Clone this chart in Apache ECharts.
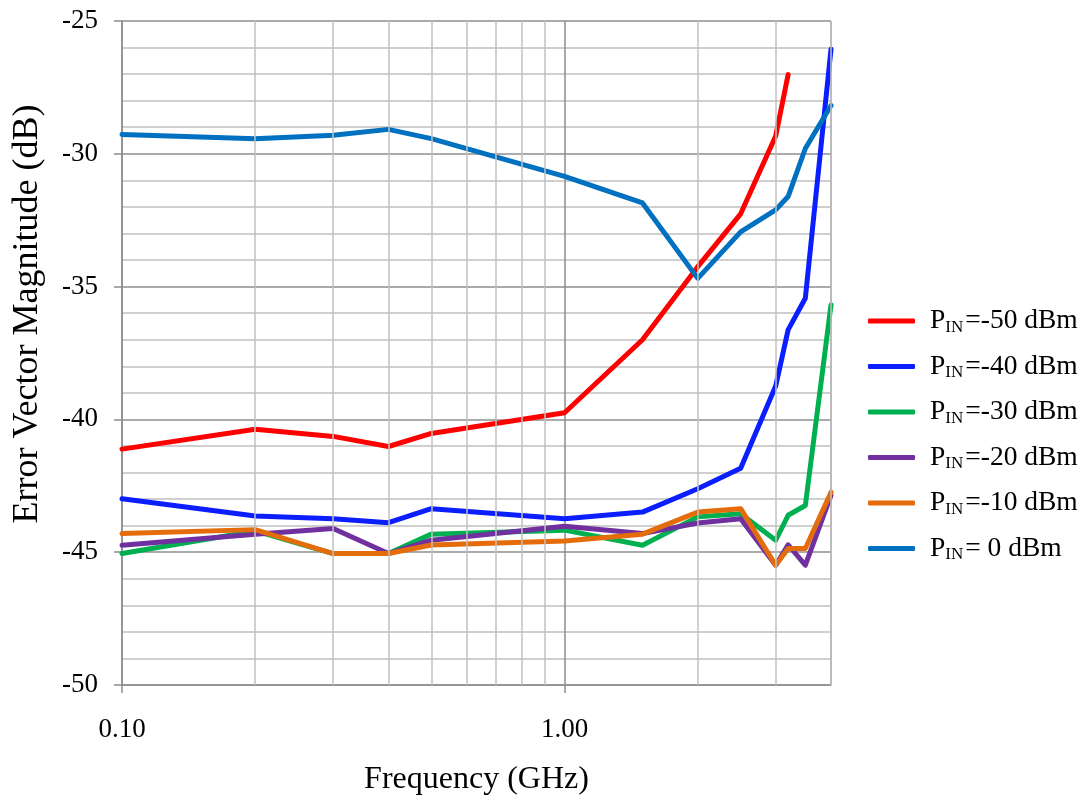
<!DOCTYPE html>
<html>
<head>
<meta charset="utf-8">
<script src="https://cdn.jsdelivr.net/npm/echarts@6/dist/echarts.min.js"></script>
<style>html,body{margin:0;padding:0;background:#fff;}#chart{width:1084px;height:801px;}</style>
</head>
<body>
<div id="chart"></div>
<script>
// Frequencies (GHz)
const freq = [0.1, 0.2, 0.3, 0.4, 0.5, 1.0, 1.5, 2.0, 2.5, 3.0, 3.2, 3.5, 4.0];
// EVM (dB) per input power
const pinLabels = ['-50', '-40', '-30', '-20', '-10', ' 0'];
const evmM50 = [-41.12, -40.37, -40.64, -41.02, -40.53, -39.75, -37.0, -34.25, -32.26, -29.33, -27.02];
const evmM40 = [-42.99, -43.64, -43.74, -43.89, -43.36, -43.74, -43.49, -42.61, -41.84, -38.74, -36.63, -35.44, -26.06];
const evmM30 = [-45.05, -44.2, -45.05, -45.05, -44.32, -44.17, -44.74, -43.67, -43.55, -44.55, -43.61, -43.24, -35.69];
const evmM20 = [-44.74, -44.32, -44.11, -45.05, -44.55, -44.02, -44.3, -43.9, -43.74, -45.49, -44.72, -45.49, -42.86];
const evmM10 = [-44.30, -44.15, -45.05, -45.05, -44.73, -44.58, -44.32, -43.49, -43.36, -45.49, -44.86, -44.86, -42.74];
const evm0   = [-29.27, -29.43, -29.30, -29.08, -29.43, -30.85, -31.85, -34.69, -32.94, -32.11, -31.61, -29.80, -28.18];
// Minor vertical grid positions (GHz)
const minorFreqGrid = [0.2, 0.3, 0.4, 0.5, 0.6, 0.7, 0.8, 0.9, 2, 3, 4];
const yTitle = 'Error Vector Magnitude (dB)';
const xTitle = 'Frequency (GHz)';

const allSeries = [evmM50, evmM40, evmM30, evmM20, evmM10, evm0];
const colors = ['#ff0000', '#0a1eff', '#00b050', '#7030a0', '#e46c0a', '#0070c0'];
const FONT = 'Liberation Serif';

const names = pinLabels.map(p => 'PIN=' + p + ' dBm');

const series = allSeries.map((vals, k) => ({
  name: names[k],
  type: 'line',
  data: vals.map((v, i) => [freq[i], v]),
  symbol: 'none',
  smooth: false,
  z: 3,
  lineStyle: { color: colors[k], width: 5, cap: 'round', join: 'round' },
  itemStyle: { color: colors[k] }
}));

series.unshift({
  name: 'grid',
  type: 'line',
  data: [],
  z: 1,
  silent: true,
  markLine: {
    silent: true,
    symbol: 'none',
    label: { show: false },
    animation: false,
    lineStyle: { color: '#c0c0c0', width: 1.5, type: 'solid' },
    emphasis: { disabled: true },
    data: minorFreqGrid.map(f => ({ xAxis: f }))
  }
});

const chart = echarts.init(document.getElementById('chart'), null, { renderer: 'canvas' });
chart.setOption({
  backgroundColor: '#ffffff',
  animation: false,
  grid: { left: 122, right: 253, top: 21, bottom: 112, containLabel: false },
  graphic: [{
    type: 'text',
    x: 28,
    y: 314,
    rotation: Math.PI / 2,
    style: {
      text: yTitle,
      fontFamily: FONT,
      fontSize: 36,
      fill: '#000',
      align: 'center',
      verticalAlign: 'middle'
    }
  }],
  xAxis: {
    type: 'log',
    logBase: 10,
    min: 0.1,
    max: 4,
    name: xTitle,
    nameLocation: 'middle',
    nameGap: 79,
    nameTextStyle: { fontFamily: FONT, fontSize: 32, color: '#000' },
    axisLine: { show: true, lineStyle: { color: '#8e8e8e', width: 1.5 } },
    axisTick: { show: true, length: 8, lineStyle: { color: '#8e8e8e', width: 1.5 } },
    axisLabel: { fontFamily: FONT, fontSize: 27, color: '#000', margin: 31, showMaxLabel: false,
      formatter: v => Number(v).toFixed(2) },
    splitLine: { show: true, lineStyle: { color: '#8e8e8e', width: 1.5 } }
  },
  yAxis: {
    type: 'value',
    min: -50,
    max: -25,
    interval: 5,
    axisLine: { show: true, lineStyle: { color: '#8e8e8e', width: 1.5 } },
    axisTick: { show: true, length: 8, lineStyle: { color: '#8e8e8e', width: 1.5 } },
    axisLabel: { fontFamily: FONT, fontSize: 27, color: '#000', margin: 24 },
    splitLine: { show: true, lineStyle: { color: '#8e8e8e', width: 1.5 } },
    minorTick: { show: false, splitNumber: 5 },
    minorSplitLine: { show: true, lineStyle: { color: '#c0c0c0', width: 1.5 } }
  },
  legend: {
    data: names,
    orient: 'vertical',
    left: 863,
    top: 302,
    itemWidth: 47,
    itemHeight: 5,
    itemGap: 16.5,
    icon: 'roundRect',
    selectedMode: false,
    formatter: n => '{p|P}{s|IN}{p|' + n.slice(3) + '}',
    textStyle: {
      fontFamily: FONT,
      color: '#000',
      padding: [0, 0, 0, 10],
      rich: {
        p: { fontFamily: FONT, fontSize: 27.5, lineHeight: 30, color: '#000' },
        s: { fontFamily: FONT, fontSize: 17, lineHeight: 17, verticalAlign: 'bottom', color: '#000', padding: [0, 2, 0, 0] }
      }
    }
  },
  series: series
});
</script>
</body>
</html>
